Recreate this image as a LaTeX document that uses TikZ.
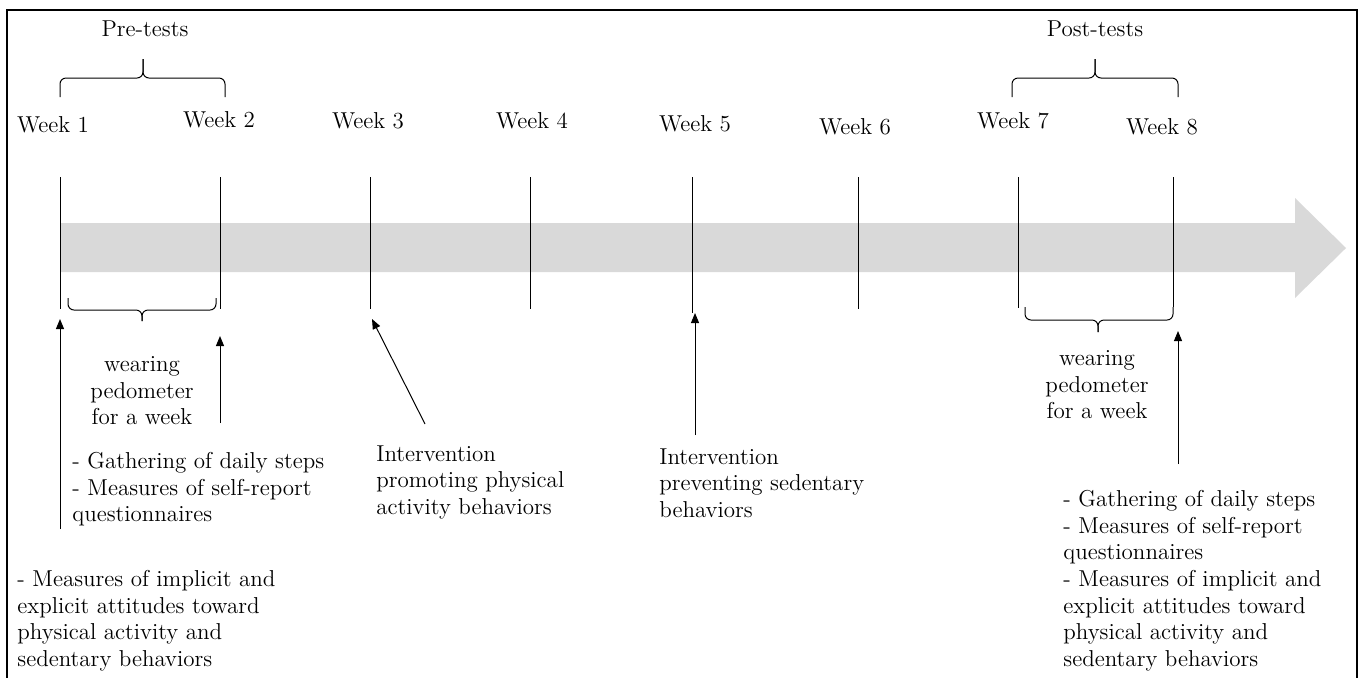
\documentclass[tikz,border=0pt]{standalone}
\usetikzlibrary{arrows.meta}
\begin{document}
\begin{tikzpicture}[x=0.5pt,y=-0.5pt,
  font=\fontsize{11.5}{13.3}\selectfont,
  lbl/.style={inner sep=0pt},
  txt/.style={inner sep=0pt, anchor=north west, align=left},
  ctxt/.style={inner sep=0pt, anchor=north, align=center},
  tick/.style={line width=0.5pt},
  bracestyle/.style={line width=0.5pt, rounded corners=3pt},
  pointer/.style={line width=0.5pt, -{Triangle[length=5pt,width=4pt]}},
  frame/.style={line width=0.6pt}]
\useasboundingbox (0,0) rectangle (1358,677);
\draw[frame] (7,690) -- (7,10) -- (1357,10) -- (1357,690);
% timeline arrow
\fill[black!15] (60,223) -- (1295,223) -- (1295,198) -- (1346,248) -- (1295,298) -- (1295,272) -- (60,272) -- cycle;
% week labels
\node[lbl, anchor=base] (w1) at (53,132) {Week 1};
\node[lbl, anchor=base] (w2) at (219,127) {Week 2};
\node[lbl, anchor=base] (w3) at (368,128) {Week 3};
\node[lbl, anchor=base] (w4) at (532,128) {Week 4};
\node[lbl, anchor=base] (w5) at (695,131) {Week 5};
\node[lbl, anchor=base] (w6) at (855,134) {Week 6};
\node[lbl, anchor=base] (w7) at (1013,128) {Week 7};
\node[lbl, anchor=base] (w8) at (1162,134) {Week 8};
\node[lbl, anchor=base] (pre) at (145,36) {Pre-tests};
\node[lbl, anchor=base] (post) at (1095,36) {Post-tests};
% week ticks
\foreach \x/\b in {60/309,220/309,370/309,530/309,692/313,858/309,1018/308,1173/307}
  \draw[tick] (\x,177) -- (\x,\b);
% braces
\draw[bracestyle] (60,97) -- (60,78) -- (143,78) -- (143,59);
\draw[bracestyle] (225,97) -- (225,78) -- (143,78) -- (143,59);
\draw[bracestyle] (1012,97) -- (1012,78) -- (1095,78) -- (1095,59);
\draw[bracestyle] (1178,97) -- (1178,78) -- (1095,78) -- (1095,59);
\draw[bracestyle] (68,298) -- (68,310) -- (142,310) -- (142,321);
\draw[bracestyle] (216,298) -- (216,310) -- (142,310) -- (142,321);
\draw[bracestyle] (1025,307) -- (1025,320) -- (1098,320) -- (1098,332);
\draw[bracestyle] (1173,307) -- (1173,320) -- (1098,320) -- (1098,332);
% texts
\node[ctxt] (wear1) at (142,356) {wearing\\pedometer\\for a week};
\node[ctxt] (wear2) at (1097,350) {wearing\\pedometer\\for a week};
\node[txt] (gath1) at (72,452) {- Gathering of daily steps\\- Measures of self-report\\questionnaires};
\node[txt] (meas1) at (17,570) {- Measures of implicit and\\explicit attitudes toward\\physical activity and\\sedentary behaviors};
\node[txt] (int1) at (376,445) {Intervention\\promoting physical\\activity behaviors};
\node[txt] (int2) at (659,448) {Intervention\\preventing sedentary\\behaviors};
\node[txt] (gath2) at (1063,490) {- Gathering of daily steps\\- Measures of self-report\\questionnaires\\- Measures of implicit and\\explicit attitudes toward\\physical activity and\\sedentary behaviors};
% arrow end points
\coordinate (a1s) at (60,529);  \coordinate (a1e) at (60,319);
\coordinate (a2s) at (220,423); \coordinate (a2e) at (220,336);
\coordinate (a3s) at (425,424); \coordinate (a3e) at (372,319);
\coordinate (a5s) at (695,435); \coordinate (a5e) at (695,313);
\coordinate (a8s) at (1178,464); \coordinate (a8e) at (1178,331);
\draw[pointer] (a1s) -- (a1e);
\draw[pointer] (a2s) -- (a2e);
\draw[pointer] (a3s) -- (a3e);
\draw[pointer] (a5s) -- (a5e);
\draw[pointer] (a8s) -- (a8e);
\end{tikzpicture}
\end{document}
